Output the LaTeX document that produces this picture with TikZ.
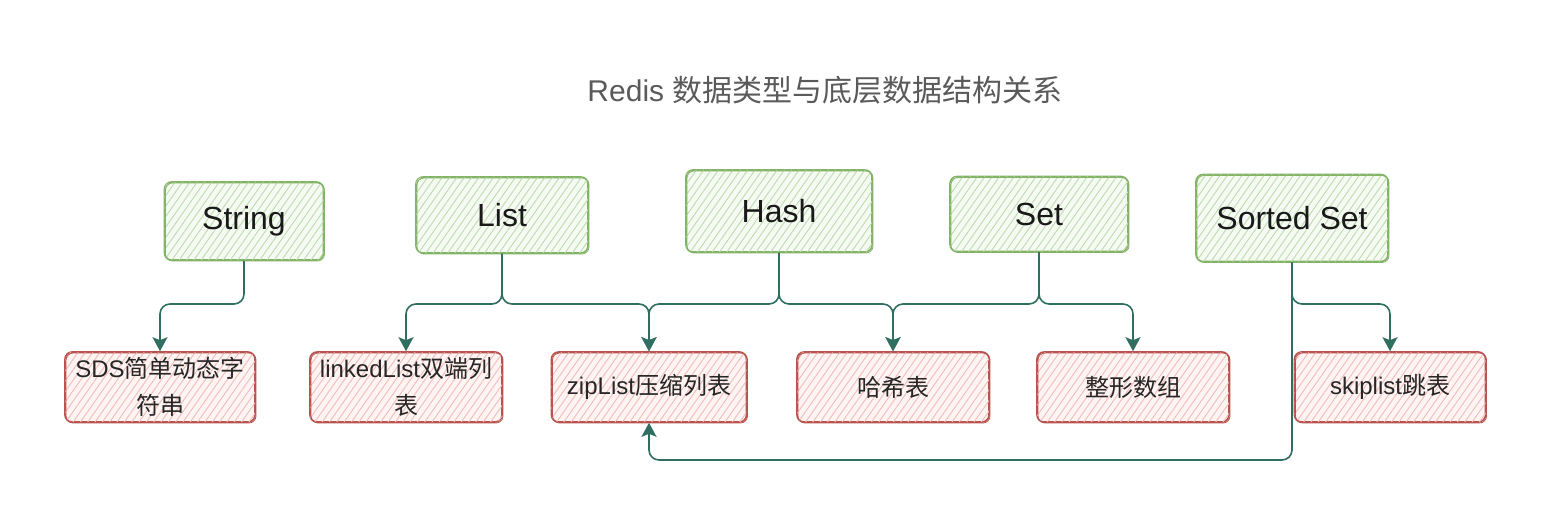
\documentclass[tikz,border=0pt]{standalone}
\usepackage{fontspec}
\setmainfont{Liberation Sans}
\newfontfamily\cjk{Noto Sans CJK SC}
\usetikzlibrary{arrows.meta,patterns.meta}
\definecolor{typeline}{HTML}{82B366}
\definecolor{typehatch}{HTML}{BEDCAE}
\definecolor{typefill}{HTML}{F5FAF2}
\definecolor{baseline}{HTML}{B85450}
\definecolor{basehatch}{HTML}{F2BDB8}
\definecolor{basefill}{HTML}{FDF4F3}
\definecolor{linkcol}{HTML}{2F6E60}
\definecolor{titlecol}{HTML}{5A5A5A}
\begin{document}
\begin{tikzpicture}[x=1pt,y=-1pt,
    typebox/.style={draw=typeline, line width=1.6pt, rounded corners=7pt, inner sep=0pt,
        fill=typefill, postaction={pattern={Lines[angle=55,distance=6pt,line width=0.9pt]}, pattern color=typehatch},
        postaction={draw=typeline, line width=0.8pt, transform canvas={shift={(1pt,-1pt)}}},
        text=black!90, font=\fontsize{32}{36}\selectfont},
    basebox/.style={draw=baseline, line width=1.6pt, rounded corners=7pt, inner sep=0pt,
        minimum width=192pt, minimum height=70pt, align=center,
        fill=basefill, postaction={pattern={Lines[angle=55,distance=6pt,line width=0.9pt]}, pattern color=basehatch},
        postaction={draw=baseline, line width=0.8pt, transform canvas={shift={(1pt,-1pt)}}},
        text=black!85, font=\fontsize{24}{37}\selectfont},
    link/.style={draw=linkcol, line width=1.6pt, rounded corners=10pt,
        -{Stealth[length=14pt,width=15pt,inset=3pt]}}]
    \useasboundingbox (0,0) rectangle (1548,516);
    \node[text=titlecol, font=\fontsize{30}{34}\selectfont] (title) at (825,90) {Redis {\cjk 数据类型与底层数据结构关系}};

    \node[typebox, minimum width=159pt, minimum height=78pt] (string) at (244,221) {String};
    \node[typebox, minimum width=172pt, minimum height=76pt] (list) at (502,215) {List};
    \node[typebox, minimum width=186pt, minimum height=82pt] (hash) at (779,211) {Hash};
    \node[typebox, minimum width=178pt, minimum height=75pt] (set) at (1039,214) {Set};
    \node[typebox, minimum width=192pt, minimum height=87pt] (zset) at (1292,218) {Sorted Set};

    \node[basebox, minimum width=190pt] (sds) at (160,387) {SDS{\cjk 简单动态字}\\{\cjk 符串}};
    \node[basebox] (linked) at (406,387) {linkedList{\cjk 双端列}\\{\cjk 表}};
    \node[basebox, minimum width=195pt] (zip) at (649,387) {zipList{\cjk 压缩列表}};
    \node[basebox] (hashtab) at (893,387) {{\cjk 哈希表}};
    \node[basebox] (intset) at (1133,387) {{\cjk 整形数组}};
    \node[basebox, minimum width=191pt] (skip) at (1390,387) {skiplist{\cjk 跳表}};

    \coordinate (fork) at (0,304);
    \coordinate (loop) at (0,460);
    \draw[link] (string.south) -- (string.south |- fork) -| (sds.north);
    \draw[link] (list.south) -- (list.south |- fork) -| (linked.north);
    \draw[link] (list.south) -- (list.south |- fork) -| (zip.north);
    \draw[link] (hash.south) -- (hash.south |- fork) -| (zip.north);
    \draw[link] (hash.south) -- (hash.south |- fork) -| (hashtab.north);
    \draw[link] (set.south) -- (set.south |- fork) -| (hashtab.north);
    \draw[link] (set.south) -- (set.south |- fork) -| (intset.north);
    \draw[link] (zset.south) -- (zset.south |- fork) -| (skip.north);
    \draw[link] (zset.south) -- (zset.south |- loop) -| (zip.south);
\end{tikzpicture}
\end{document}
